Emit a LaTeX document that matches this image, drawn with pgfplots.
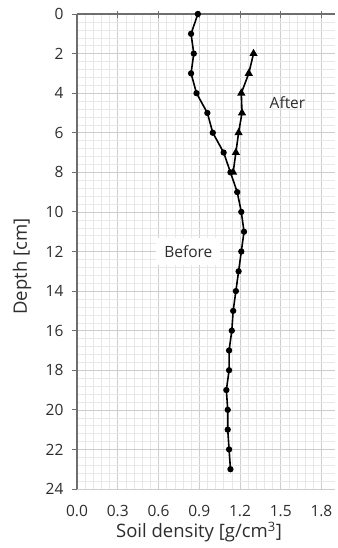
\documentclass[border=0pt]{standalone}
\usepackage{pgfplots}
\pgfplotsset{compat=1.18}
\usepackage{fontspec}
\setmainfont{Open Sans}
\definecolor{axisgray}{RGB}{110,110,110}
\definecolor{txt}{RGB}{45,45,45}
\definecolor{majgrid}{RGB}{205,205,205}
\definecolor{mingrid}{RGB}{232,232,232}
\pgfplotstableread{
depth dens
0 0.89
1 0.84
2 0.86
3 0.84
4 0.88
5 0.96
6 1.00
7 1.08
8 1.13
9 1.18
10 1.21
11 1.23
12 1.21
13 1.19
14 1.17
15 1.15
16 1.14
17 1.12
18 1.12
19 1.10
20 1.11
21 1.11
22 1.12
23 1.13
}\before
\pgfplotstableread{
depth dens
2 1.30
3 1.265
4 1.21
5 1.215
6 1.19
7 1.17
8 1.15
}\after
\begin{document}
\begin{tikzpicture}[font=\fontsize{15.5}{18}\selectfont, text=txt]
\useasboundingbox (-77pt,-59pt) rectangle (260pt,489pt);
\begin{axis}[
  scale only axis,
  width=258pt, height=475pt,
  xmin=0, xmax=1.9, ymin=0, ymax=24,
  y dir=reverse,
  xtick={0,0.3,...,1.8},
  ytick={0,2,...,24},
  minor x tick num=4, minor y tick num=4,
  grid=both,
  major grid style={majgrid, line width=0.6pt},
  minor grid style={mingrid, line width=0.4pt},
  axis line style={draw=none},
  xtick pos=left, ytick pos=left,
  tick label style={font=\fontsize{15.5}{18}\selectfont, text=txt},
  label style={font=\fontsize{18.5}{22}\selectfont, text=txt},
  x tick label style={/pgf/number format/fixed, /pgf/number format/fixed zerofill, /pgf/number format/precision=1, anchor=center, yshift=-17pt},
  y tick label style={xshift=-5pt},
  /pgf/number format/assume math mode=true,
  major tick length=5pt,
  tick align=outside,
  tick style={axisgray, line width=0.9pt},
  minor tick length=0pt,
  x tick style={draw=none},
  xlabel={Soil density [g/cm\textsuperscript{3}]},
  ylabel={Depth [cm]},
  xlabel style={at={(axis description cs:0.5,0)}, anchor=center, yshift=-43pt, xshift=-7pt},
  ylabel style={at={(axis description cs:0,0.5)}, anchor=center, yshift=55pt, xshift=-15pt},
  clip=false,
]
\draw[axisgray, line width=1.3pt] (axis cs:0,0) -- (axis cs:1.9,0);
\draw[axisgray, line width=1.3pt] (axis cs:0,0) -- (axis cs:0,24);
\pgfplotsinvokeforeach{0.3,0.6,0.9,1.2,1.5,1.8}{
  \draw[axisgray, line width=0.9pt] (axis cs:#1,0) ++(0,3.5pt) -- ++(0,-7pt);
}
\addplot[black, line width=1.6pt, mark=*, mark size=2.3pt] table[x=dens, y=depth] {\before};
\addplot[black, line width=1.6pt, mark=triangle*, mark size=3.2pt] table[x=dens, y=depth] {\after};
\node[fill=white, inner xsep=8pt, inner ysep=7pt] at (axis cs:0.82,12) {Before};
\node at (axis cs:1.55,4.5) {After};
\end{axis}
\end{tikzpicture}
\end{document}
